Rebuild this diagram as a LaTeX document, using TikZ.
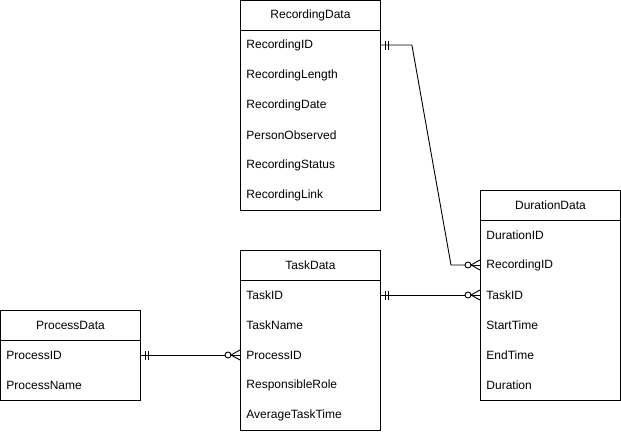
\documentclass[tikz,border=0pt]{standalone}
\usepackage{fontspec}
\setmainfont{Liberation Sans}
\begin{document}
\begin{tikzpicture}[x=1pt,y=-1pt,
  line width=0.9pt,
  tbl/.style={draw=black, fill=white, minimum width=140pt, inner sep=0pt, anchor=north west},
  head/.style={tbl, minimum height=30pt, font=\fontsize{12}{14}\selectfont},
  body/.style={tbl},
  field/.style={anchor=west, inner sep=0pt, font=\fontsize{12}{14}\selectfont},
  rel/.style={draw=black, line width=0.9pt},
  bar/.style={draw=black, line width=0.9pt},
]
\useasboundingbox (0,0) rectangle (621,431);

% ---------- RecordingData ----------
\node[body, minimum height=180pt] (recB) at (240,30) {};
\node[head] (recH) at (240,0) {RecordingData};
\node[field] (recId)     at (246,45)  {RecordingID};
\node[field] (recLen)    at (246,75)  {RecordingLength};
\node[field] (recDate)   at (246,105) {RecordingDate};
\node[field] (recPerson) at (246,135) {PersonObserved};
\node[field] (recStatus) at (246,165) {RecordingStatus};
\node[field] (recLink)   at (246,195) {RecordingLink};

% ---------- DurationData ----------
\node[body, minimum height=180pt] (durB) at (480,220) {};
\node[head] (durH) at (480,190) {DurationData};
\node[field] (durId)    at (486,235) {DurationID};
\node[field] (durRec)   at (486,265) {RecordingID};
\node[field] (durTask)  at (486,295) {TaskID};
\node[field] (durStart) at (486,325) {StartTime};
\node[field] (durEnd)   at (486,355) {EndTime};
\node[field] (durDur)   at (486,385) {Duration};

% ---------- TaskData ----------
\node[body, minimum height=150pt] (taskB) at (240,280) {};
\node[head] (taskH) at (240,250) {TaskData};
\node[field] (taskId)   at (246,295) {TaskID};
\node[field] (taskName) at (246,325) {TaskName};
\node[field] (taskProc) at (246,355) {ProcessID};
\node[field] (taskRole) at (246,385) {ResponsibleRole};
\node[field] (taskAvg)  at (246,415) {AverageTaskTime};

% ---------- ProcessData ----------
\node[body, minimum height=60pt] (procB) at (0,340) {};
\node[head] (procH) at (0,310) {ProcessData};
\node[field] (procId)   at (6,355) {ProcessID};
\node[field] (procName) at (6,385) {ProcessName};

% ---------- connector end points on the table borders ----------
\coordinate (a1) at (recId -| recB.east);
\coordinate (a2) at (durRec -| durB.west);
\coordinate (b1) at (taskId -| taskB.east);
\coordinate (b2) at (durTask -| durB.west);
\coordinate (c1) at (procId -| procB.east);
\coordinate (c2) at (taskProc -| taskB.west);

% mandatory one: two short bars next to the border
\tikzset{
  one/.pic={
    \draw[bar] (5,-4.5) -- (5,4.5);
    \draw[bar] (8,-4.5) -- (8,4.5);
  },
  % zero or many: circle plus crow's foot opening towards the border
  many/.pic={
    \draw[bar] (-12,0) circle (3);
    \draw[bar] (-9,0) -- (0,0);
    \draw[bar] (-9,0) -- (0,-5);
    \draw[bar] (-9,0) -- (0,5);
  },
}

% RecordingData.RecordingID -- DurationData.RecordingID
\draw[rel] (a1) -- ++(31,0) -- ([xshift=-29pt]a2) -- ([xshift=-15pt]a2);
\pic at (a1) {one};
\pic at (a2) {many};

% TaskData.TaskID -- DurationData.TaskID
\draw[rel] (b1) -- ([xshift=-15pt]b2);
\pic at (b1) {one};
\pic at (b2) {many};

% ProcessData.ProcessID -- TaskData.ProcessID
\draw[rel] (c1) -- ([xshift=-15pt]c2);
\pic at (c1) {one};
\pic at (c2) {many};
\end{tikzpicture}
\end{document}
